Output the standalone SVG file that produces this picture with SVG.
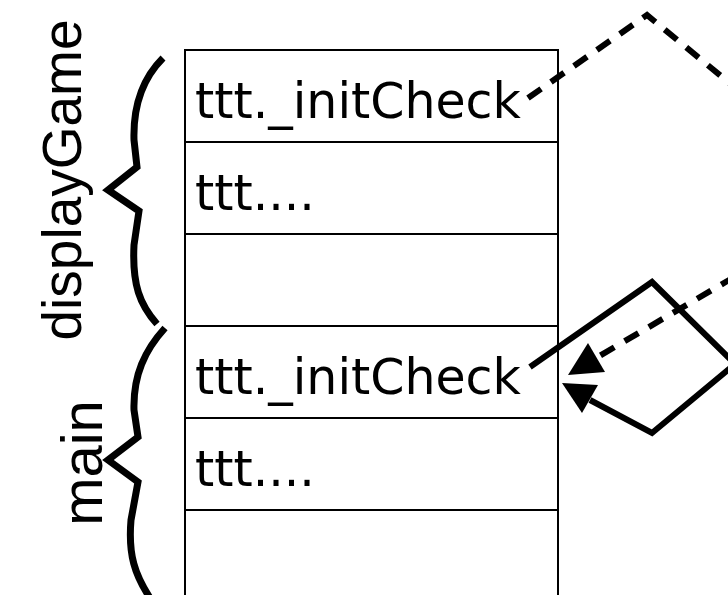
<svg xmlns="http://www.w3.org/2000/svg" width="728" height="595" viewBox="0 0 728 595">
  <style>
    .cell { fill: #fff; stroke: #000; stroke-width: 2; }
    .ctext { font-family: "DejaVu Sans", sans-serif; font-size: 49px; fill: #000; }
    .label { font-family: "Liberation Sans", Arial, sans-serif; fill: #000; }
    .brace { fill: none; stroke: #000; stroke-width: 7; stroke-linejoin: miter; }
    .solid { fill: none; stroke: #000; stroke-width: 6; stroke-linejoin: miter; }
    .dashed { fill: none; stroke: #000; stroke-width: 6; stroke-dasharray: 16 12; }
    .head { fill: #000; stroke: none; }
  </style>

  <rect width="728" height="595" fill="#fff"/>

  <!-- stack frames -->
  <g id="frame-displayGame-1">
    <rect class="cell" x="185" y="50" width="373" height="92"/>
    <text class="ctext" x="195" y="118">ttt._initCheck</text>
  </g>
  <g id="frame-displayGame-2">
    <rect class="cell" x="185" y="142" width="373" height="92"/>
    <text class="ctext" x="195" y="210">ttt....</text>
  </g>
  <g id="frame-displayGame-3">
    <rect class="cell" x="185" y="234" width="373" height="92"/>
  </g>
  <g id="frame-main-1">
    <rect class="cell" x="185" y="326" width="373" height="92"/>
    <text class="ctext" x="195" y="394">ttt._initCheck</text>
  </g>
  <g id="frame-main-2">
    <rect class="cell" x="185" y="418" width="373" height="92"/>
    <text class="ctext" x="195" y="486">ttt....</text>
  </g>
  <g id="frame-main-3">
    <rect class="cell" x="185" y="510" width="373" height="100"/>
  </g>

  <!-- scope braces and labels -->
  <g id="scope-displayGame">
    <path class="brace" d="M163,58 C143,78 133,105 134,140 L137,167 L108,190 L139,211 L134,245 C132,285 140,305 157,324"/>
    <text class="label" font-size="55" transform="translate(81,180) rotate(-90)" text-anchor="middle">displayGame</text>
  </g>
  <g id="scope-main">
    <path class="brace" d="M165,328 C145,350 133,375 134,410 L138,437 L108,460 L138,482 L131,520 C128,555 135,575 150,598"/>
    <text class="label" font-size="58" transform="translate(102,463) rotate(-90)" text-anchor="middle">main</text>
  </g>

  <!-- call connectors -->
  <g id="connectors">
    <path class="dashed" d="M528,98 L647,15 L869,198 L596,358"/>
    <polygon class="head" points="568,375 588,343 605,372"/>
    <path class="solid" d="M530,367 L652,282 L735,364 L652,433 L590,400"/>
    <polygon class="head" points="562,383 598,385 582,413"/>
  </g>
</svg>
